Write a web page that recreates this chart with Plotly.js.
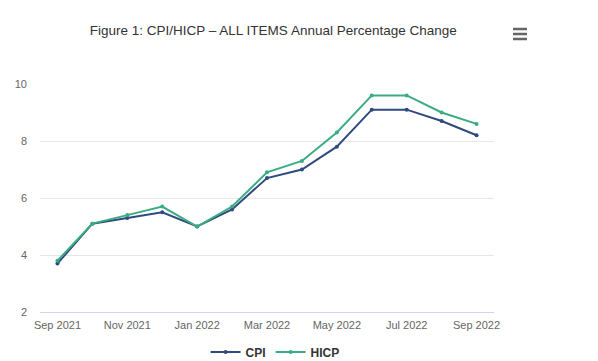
<!DOCTYPE html>
<html>
<head>
<meta charset="utf-8">
<script src="https://cdn.plot.ly/plotly-3.0.1.min.js"></script>
<style>html,body{margin:0;padding:0;background:#fff;}#chart{width:598px;height:361px;}</style>
</head>
<body>
<div id="chart"></div>
<script>
const months = ["Sep 2021","Oct 2021","Nov 2021","Dec 2021","Jan 2022","Feb 2022","Mar 2022","Apr 2022","May 2022","Jun 2022","Jul 2022","Aug 2022","Sep 2022"];
const cpi  = [3.7, 5.1, 5.3, 5.5, 5.0, 5.6, 6.7, 7.0, 7.8, 9.1, 9.1, 8.7, 8.2];
const hicp = [3.8, 5.1, 5.4, 5.7, 5.0, 5.7, 6.9, 7.3, 8.3, 9.6, 9.6, 9.0, 8.6];
const tickLabels = ["Sep 2021","Nov 2021","Jan 2022","Mar 2022","May 2022","Jul 2022","Sep 2022"];
const yTicks = [2, 4, 6, 8, 10];

const FONT = "Liberation Sans, Arial, sans-serif";
const traces = [
  {x: months, y: cpi, name: "CPI", type: "scatter", mode: "lines+markers",
   line: {color: "#2f4a7e", width: 2}, marker: {color: "#2f4a7e", size: 4}},
  {x: months, y: hicp, name: "HICP", type: "scatter", mode: "lines+markers",
   line: {color: "#3aab82", width: 2}, marker: {color: "#3aab82", size: 4}}
];
const layout = {
  width: 598, height: 361,
  margin: {l: 40, r: 104, t: 84, b: 49},
  paper_bgcolor: "#fff", plot_bgcolor: "#fff",
  font: {family: FONT, color: "#666", size: 11},
  title: {text: "Figure 1: CPI/HICP – ALL ITEMS Annual Percentage Change",
          font: {family: FONT, size: 13.5, color: "#333"}, x: 0.457, xanchor: "center",
          yref: "container", y: 0.917, yanchor: "middle"},
  xaxis: {type: "category", range: [-0.5, 12.5], tickmode: "array", tickvals: tickLabels, ticktext: tickLabels,
          showgrid: false, showline: true, linecolor: "#ccd6eb", linewidth: 1, ticks: "", zeroline: false,
          ticklabelstandoff: 3, tickfont: {size: 11, color: "#666"}, fixedrange: true},
  yaxis: {range: [2, 10], tickvals: yTicks, showgrid: true, gridcolor: "#e6e6e6", gridwidth: 1,
          zeroline: false, showline: false, ticks: "", ticklabelstandoff: 12,
          tickfont: {size: 11, color: "#666"}, fixedrange: true},
  showlegend: true,
  legend: {orientation: "h", xref: "container", yref: "container", x: 0.46, xanchor: "center",
           y: 0.025, yanchor: "middle",
           font: {family: FONT, size: 12, color: "#333", weight: "bold"}, itemwidth: 30},
  shapes: [0, 1, 2].map(i => ({type: "line", xref: "paper", yref: "paper",
     x0: (513 - 40) / 454, x1: (527 - 40) / 454,
     y0: (312 - (29 + i * 5)) / 228, y1: (312 - (29 + i * 5)) / 228,
     line: {color: "#666", width: 2.5}}))
};
Plotly.newPlot("chart", traces, layout, {displayModeBar: false, staticPlot: true});
</script>
</body>
</html>
